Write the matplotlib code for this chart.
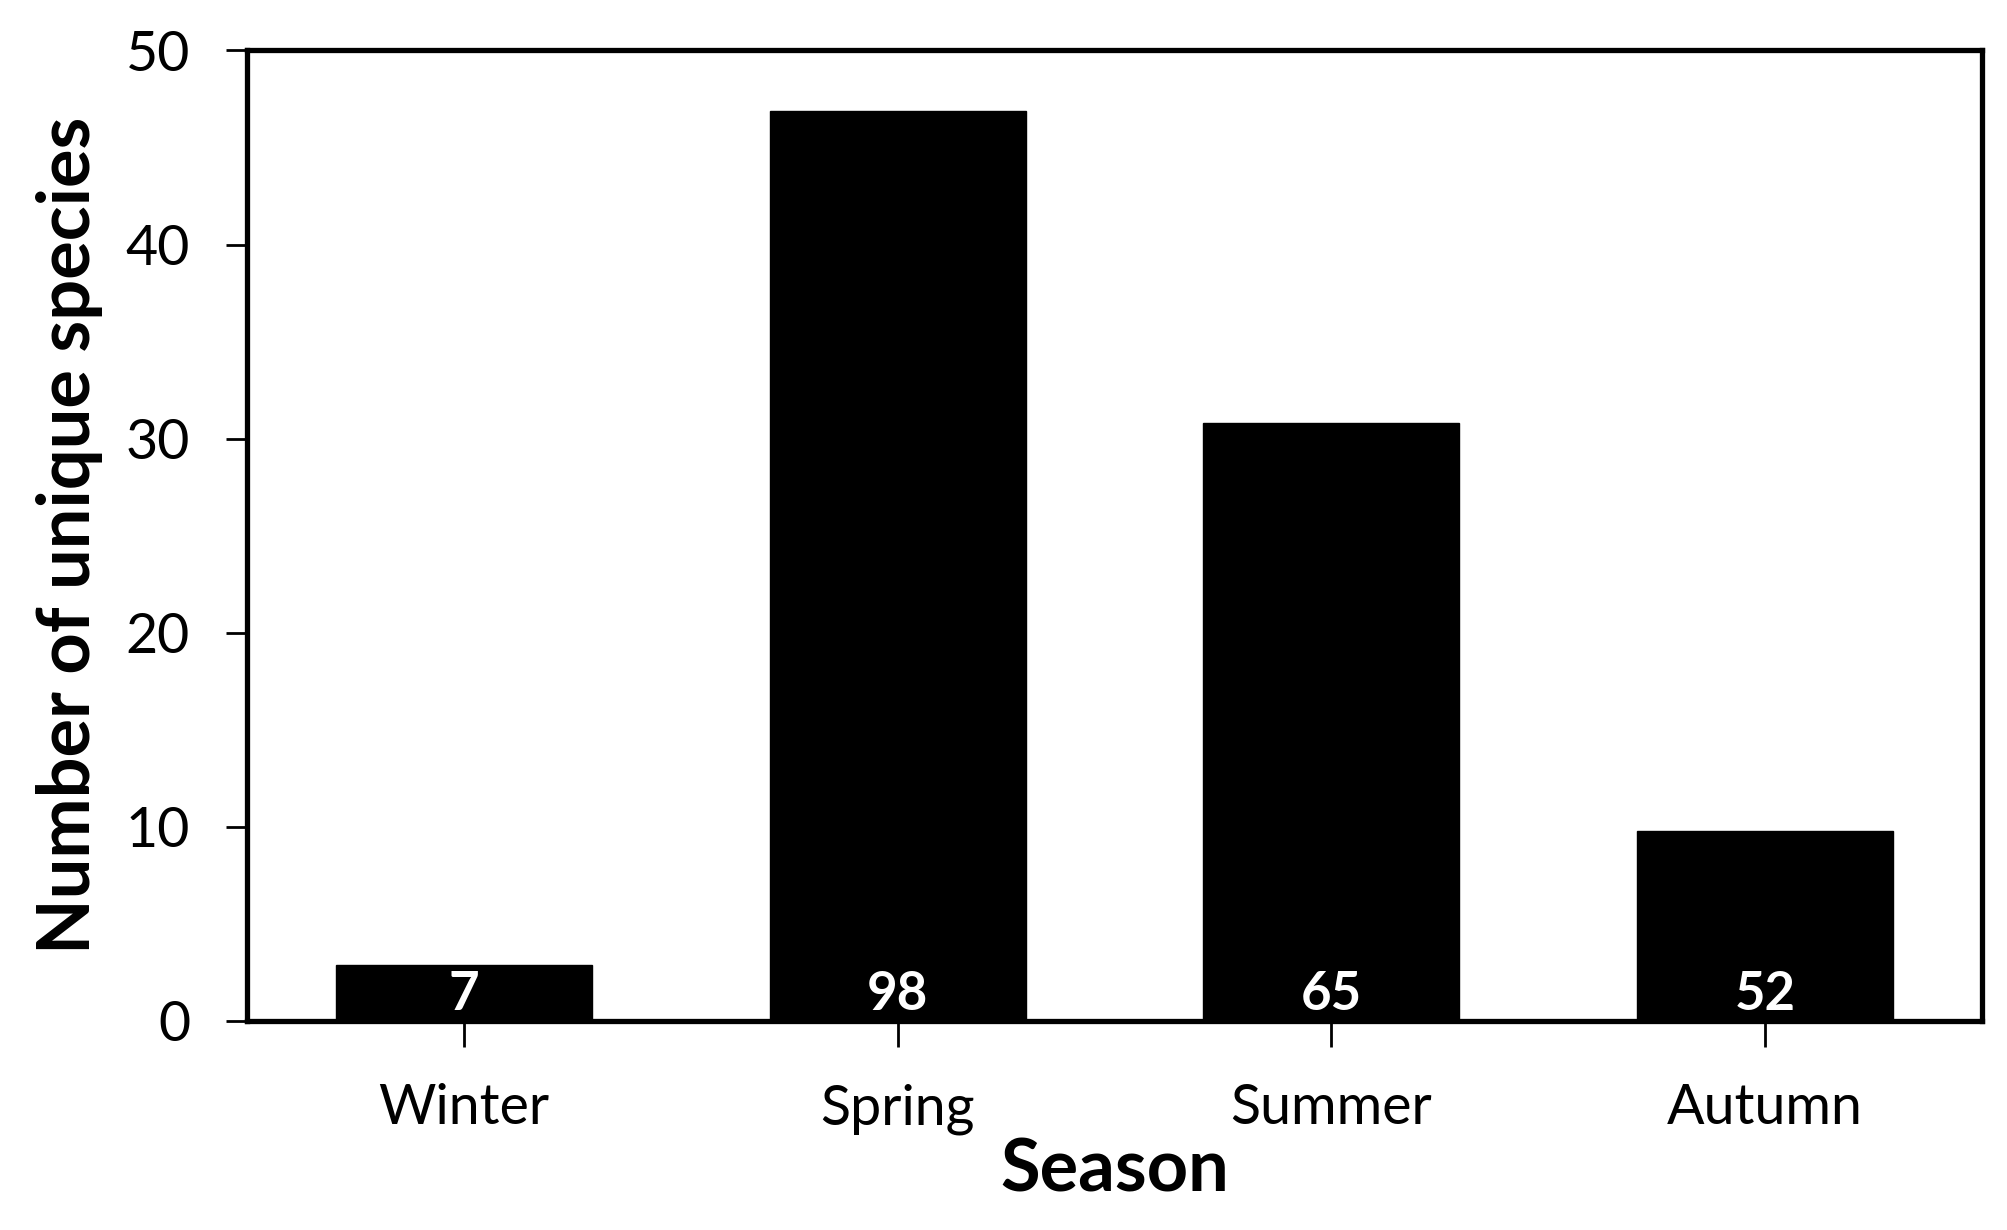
import numpy as np
import matplotlib.pyplot as plt

seasons = ['Winter', 'Spring', 'Summer', 'Autumn']
unique_species = [2.9, 46.9, 30.8, 9.8]
total_species = [7, 98, 65, 52]
yticks = [0, 10, 20, 30, 40, 50]

plt.rcParams['font.family'] = ['Lato', 'DejaVu Sans']

fig = plt.figure(figsize=(20.08, 12.3), dpi=100)
ax = fig.add_axes([0.123, 0.170, 0.864, 0.789])

x = np.arange(len(seasons))
ax.bar(x, unique_species, width=0.59, color='black', edgecolor='black')

for xi, n in zip(x, total_species):
    ax.text(xi, 0.55, str(n), color='white', fontsize=38, fontweight='bold',
            ha='center', va='baseline')

ax.set_xlim(-0.5, 3.5)
ax.set_ylim(0, 50)
ax.set_xticks(x)
ax.set_xticklabels(seasons, fontsize=40)
ax.set_yticks(yticks)
ax.set_yticklabels([str(t) for t in yticks], fontsize=40)

for s in ax.spines.values():
    s.set_linewidth(3.8)
ax.tick_params(axis='y', length=15, width=2, pad=26)
ax.tick_params(axis='x', length=19, width=2, pad=26)

ax.set_xlabel('Season', fontsize=52, fontweight='bold', labelpad=2)
ax.set_ylabel('Number of unique species', fontsize=52, fontweight='bold', labelpad=16)

fig.savefig('out.png', dpi=100)
